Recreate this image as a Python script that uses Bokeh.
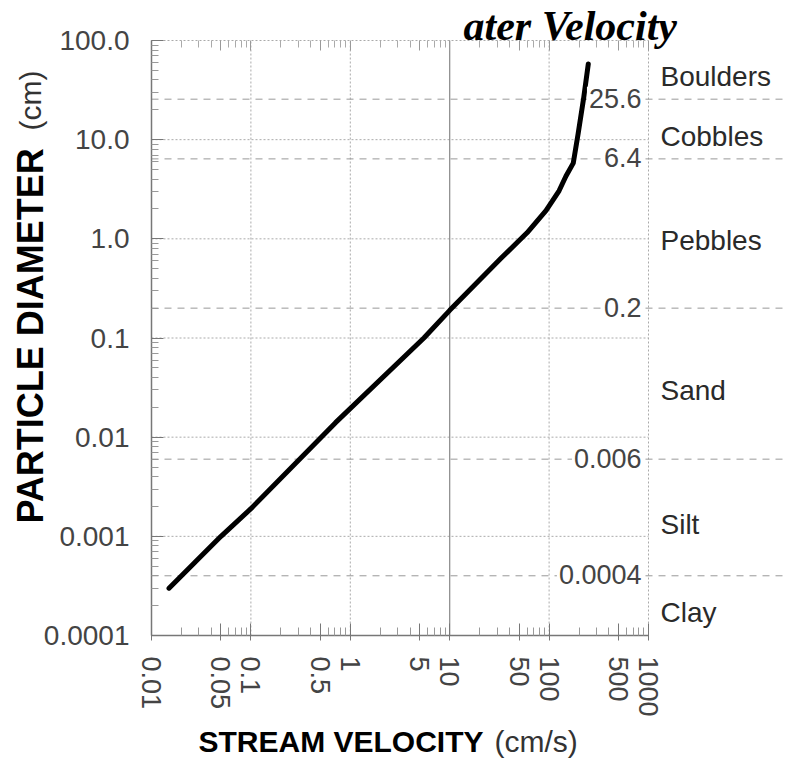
import math
from bokeh.plotting import figure
from bokeh.models import Range1d, LogAxis, FixedTicker, Label
from bokeh.embed import file_html
from bokeh.resources import INLINE

# ---- data ----
velocity_cms = [0.015, 0.05, 0.1, 0.71, 5.5, 10, 33, 60, 93, 126, 148, 175, 196, 223, 248]
diameter_cm = [0.0003, 0.001, 0.0019, 0.014, 0.1, 0.19, 0.64, 1.15, 1.92, 3.05, 4.3, 5.8, 11.5, 26.5, 58]

x_major_ticks = [0.01, 0.05, 0.1, 0.5, 1, 5, 10, 50, 100, 500, 1000]
x_tick_labels = ["0.01", "0.05", "0.1", "0.5", "1", "5", "10", "50", "100", "500", "1000"]
y_major_ticks = [0.0001, 0.001, 0.01, 0.1, 1, 10, 100]
y_tick_labels = ["0.0001", "0.001", "0.01", "0.1", "1.0", "10.0", "100.0"]

x_grid_dotted = [0.1, 1, 100, 1000]
x_grid_solid = [10]
y_grid_decades = [0.001, 0.01, 0.1, 1, 10]

class_boundaries = [25.6, 6.4, 0.2, 0.006, 0.0004]
boundary_labels = ["25.6", "6.4", "0.2", "0.006", "0.0004"]
class_names = ["Boulders", "Cobbles", "Pebbles", "Sand", "Silt", "Clay"]

x_min, x_max = 0.01, 1000
y_min, y_max = 0.0001, 100

# ---- layout (pixels) ----
W, H = 786, 767
AX_LEFT, AX_RIGHT = 151, 648      # where x_min / x_max sit
AX_TOP, AX_BOTTOM = 40, 635       # where y_max / y_min sit
xpd = (AX_RIGHT - AX_LEFT) / (math.log10(x_max) - math.log10(x_min))
ypd = (AX_BOTTOM - AX_TOP) / (math.log10(y_max) - math.log10(y_min))
x_lo = 10 ** (math.log10(x_min) - AX_LEFT / xpd)
x_hi = 10 ** (math.log10(x_max) + (W - AX_RIGHT) / xpd)
y_lo = 10 ** (math.log10(y_min) - (H - AX_BOTTOM) / ypd)
y_hi = 10 ** (math.log10(y_max) + AX_TOP / ypd)
BL = 13  # baseline correction for text labels

FONT = "Liberation Sans"
TICK_COLOR = "#444444"

p = figure(width=W, height=H, x_axis_type="log", y_axis_type="log",
           x_axis_location=None, y_axis_location=None,
           x_range=Range1d(x_lo, x_hi), y_range=Range1d(y_lo, y_hi),
           output_backend="svg", toolbar_location=None,
           min_border_left=0, min_border_right=0,
           min_border_top=0, min_border_bottom=0)
p.outline_line_color = None
p.background_fill_color = "white"
p.border_fill_color = "white"
p.grid.visible = False


def minor_list(decades, mults):
    return [d * m for d in decades for m in mults]


x_minor = minor_list([0.01, 0.1, 1, 10, 100], [2, 3, 4, 6, 7, 8, 9])
y_minor = minor_list([0.0001, 0.001, 0.01, 0.1, 1, 10], [2, 3, 4, 5, 6, 7, 8, 9])

# ---- grid lines ----
ny = len(y_grid_decades)
p.segment(x0=[x_min] * ny, x1=[x_max] * ny, y0=y_grid_decades, y1=y_grid_decades,
          line_color="#aaaaaa", line_width=1, line_dash="2 2")
nxd = len(x_grid_dotted)
p.segment(x0=x_grid_dotted, x1=x_grid_dotted, y0=[y_min] * nxd, y1=[y_max] * nxd,
          line_color="#aaaaaa", line_width=1, line_dash="2 2")
nxs = len(x_grid_solid)
p.segment(x0=x_grid_solid, x1=x_grid_solid, y0=[y_min] * nxs, y1=[y_max] * nxs,
          line_color="#888888", line_width=1.2)

# class boundaries (dashed, run on to the right edge)
nb = len(class_boundaries)
p.segment(x0=[x_min] * nb, x1=[x_hi] * nb, y0=class_boundaries, y1=class_boundaries,
          line_color="#999999", line_width=1, line_dash="7 6")

# ---- axes (fixed at the data edges) ----
xa = LogAxis(ticker=FixedTicker(ticks=x_major_ticks, minor_ticks=x_minor),
             bounds=(x_min, x_max), fixed_location=y_min)
xa.major_label_overrides = {t: s for t, s in zip(x_major_ticks, x_tick_labels)}
xa.major_label_orientation = -math.pi / 2
xa.major_label_standoff = 16
xa.major_label_text_font = FONT
xa.major_label_text_font_size = "27px"
xa.major_label_text_color = TICK_COLOR
xa.axis_line_color = "#777777"
xa.axis_line_width = 1.5
xa.major_tick_in = 12
xa.major_tick_out = 5
xa.minor_tick_in = 8
xa.minor_tick_out = 0
xa.major_tick_line_color = "#777777"
xa.minor_tick_line_color = "#999999"
p.add_layout(xa, "below")

ta = LogAxis(ticker=FixedTicker(ticks=x_major_ticks, minor_ticks=x_minor),
             bounds=(x_min, x_max), fixed_location=y_max)
ta.major_label_overrides = {t: "" for t in x_major_ticks}
ta.major_label_text_font_size = "0px"
ta.major_label_standoff = 0
ta.axis_line_color = "#aaaaaa"
ta.axis_line_dash = "2 2"
ta.major_tick_in = 10
ta.major_tick_out = 0
ta.minor_tick_in = 7
ta.minor_tick_out = 0
ta.major_tick_line_color = "#999999"
ta.minor_tick_line_color = "#aaaaaa"
p.add_layout(ta, "above")

ya = LogAxis(ticker=FixedTicker(ticks=y_major_ticks, minor_ticks=y_minor),
             bounds=(y_min, y_max), fixed_location=x_min)
ya.major_label_overrides = {t: s for t, s in zip(y_major_ticks, y_tick_labels)}
ya.major_label_standoff = 22
ya.major_label_text_font = FONT
ya.major_label_text_font_size = "28px"
ya.major_label_text_color = TICK_COLOR
ya.axis_line_color = "#777777"
ya.axis_line_width = 1.5
ya.major_tick_in = 12
ya.major_tick_out = 0
ya.minor_tick_in = 7
ya.minor_tick_out = 0
ya.major_tick_line_color = "#777777"
ya.minor_tick_line_color = "#999999"
p.add_layout(ya, "left")

# ---- curve ----
p.line(velocity_cms, diameter_cm, line_color="black", line_width=5,
       line_cap="round", line_join="round")

# boundary value labels
for b, s in zip(class_boundaries, boundary_labels):
    p.add_layout(Label(x=x_max, y=b, text=s, x_offset=-5, y_offset=1,
                       text_align="right", text_baseline="middle",
                       text_font=FONT, text_font_size="27px", text_color="#444444",
                       background_fill_color="white", padding=2))

# class names
edges = [y_max] + class_boundaries + [y_min]
for i, name in enumerate(class_names):
    gm = math.sqrt(edges[i] * edges[i + 1])
    p.add_layout(Label(x=x_max, y=gm, text=name, x_offset=12, y_offset=-7,
                       text_align="left", text_baseline="middle",
                       text_font=FONT, text_font_size="28px", text_color="#2a2a2a"))

# ---- axis titles (screen px, origin bottom-left of the canvas) ----
p.add_layout(Label(x=198, y=H - 754 + BL, x_units="screen", y_units="screen",
                   text="STREAM VELOCITY", text_font=FONT,
                   text_font_style="bold", text_font_size="30px", text_color="black",
                   text_baseline="alphabetic", text_align="left"))
p.add_layout(Label(x=494, y=H - 754 + BL, x_units="screen", y_units="screen",
                   text="(cm/s)", text_font=FONT,
                   text_font_style="normal", text_font_size="30px", text_color="#333333",
                   text_baseline="alphabetic", text_align="left"))
p.add_layout(Label(x=43 - BL, y=H - 523, x_units="screen", y_units="screen", angle=math.pi / 2,
                   text="PARTICLE DIAMETER", text_font=FONT,
                   text_font_style="bold", text_font_size="36px", text_color="black",
                   text_baseline="alphabetic", text_align="left"))
p.add_layout(Label(x=43 - BL, y=H - 130, x_units="screen", y_units="screen", angle=math.pi / 2,
                   text="(cm)", text_font=FONT,
                   text_font_style="normal", text_font_size="30px", text_color="#333333",
                   text_baseline="alphabetic", text_align="left"))

# title fragment at the top edge
p.add_layout(Label(x=463, y=H - 38 + BL, x_units="screen", y_units="screen",
                   text="ater Velocity", text_font="Liberation Serif",
                   text_font_style="bold italic", text_font_size="42px", text_color="black",
                   text_baseline="alphabetic", text_align="left"))

open("out.html", "w").write(file_html(p, INLINE))
